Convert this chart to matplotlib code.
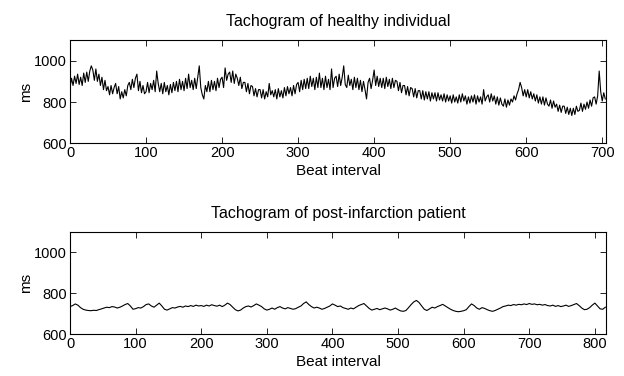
import numpy as np
import matplotlib
matplotlib.use("Agg")
import matplotlib.pyplot as plt

# RR intervals (ms), healthy subject, read every 2 beats
healthy_ms = [
    870, 915, 880, 925, 890, 935, 885, 920, 880, 940,
    895, 945, 900, 950, 975, 955, 905, 960, 900, 935,
    880, 920, 860, 905, 855, 875, 835, 880, 840, 870,
    890, 840, 875, 815, 850, 820, 860, 830, 880, 895,
    860, 910, 870, 915, 935, 855, 900, 845, 880, 840,
    850, 895, 845, 890, 860, 905, 850, 950, 890, 850,
    890, 840, 895, 850, 880, 835, 885, 845, 895, 855,
    900, 850, 910, 860, 900, 855, 915, 865, 935, 870,
    905, 860, 915, 865, 920, 975, 870, 835, 815, 880,
    850, 900, 850, 905, 860, 900, 855, 915, 870, 910,
    920, 870, 965, 905, 935, 945, 895, 950, 890, 935,
    915, 880, 920, 865, 895, 895, 850, 890, 840, 880,
    875, 830, 865, 825, 860, 860, 820, 860, 815, 850,
    825, 890, 835, 855, 825, 860, 815, 865, 825, 855,
    820, 870, 830, 875, 840, 870, 830, 880, 840, 885,
    895, 850, 905, 860, 910, 865, 915, 865, 925, 875,
    915, 860, 920, 870, 940, 870, 915, 860, 925, 870,
    910, 860, 960, 870, 915, 925, 875, 935, 880, 920,
    975, 885, 870, 930, 880, 910, 860, 920, 870, 915,
    860, 905, 850, 900, 860, 815, 895, 915, 865, 905,
    955, 880, 925, 875, 915, 870, 915, 865, 920, 875,
    910, 865, 915, 870, 905, 900, 855, 895, 845, 880,
    880, 835, 875, 830, 870, 865, 825, 865, 820, 855,
    855, 815, 855, 810, 850, 815, 850, 805, 845, 815,
    845, 805, 845, 810, 835, 805, 840, 800, 835, 805,
    830, 795, 835, 800, 825, 795, 835, 800, 840, 805,
    830, 790, 825, 795, 830, 800, 835, 790, 830, 800,
    825, 790, 860, 805, 825, 835, 800, 840, 805, 830,
    790, 825, 785, 820, 790, 780, 815, 775, 810, 785,
    815, 800, 830, 810, 840, 860, 895, 870, 830, 860,
    825, 860, 820, 850, 815, 840, 805, 835, 795, 825,
    790, 825, 785, 820, 790, 780, 810, 770, 805, 775,
    790, 755, 785, 750, 780, 780, 745, 775, 740, 770,
    735, 770, 740, 780, 755, 760, 795, 755, 790, 765,
    800, 770, 810, 780, 820, 825, 790, 830, 950, 850,
    805, 845, 815,
]

# RR intervals (ms), post-infarction patient, read every 4 beats
patient_ms = [
    735, 740, 748, 742, 730, 722, 718, 716, 715, 717,
    716, 720, 724, 728, 732, 730, 735, 733, 728, 732,
    738, 745, 750, 738, 722, 725, 730, 728, 735, 745,
    748, 738, 732, 742, 752, 738, 722, 718, 724, 730,
    728, 733, 736, 732, 738, 735, 740, 736, 742, 738,
    740, 736, 742, 738, 744, 740, 737, 742, 735, 742,
    752, 745, 732, 720, 714, 718, 728, 735, 738, 733,
    740, 748, 742, 735, 724, 718, 722, 728, 722, 730,
    735, 728, 724, 730, 726, 722, 725, 732, 738, 750,
    758, 745, 735, 728, 732, 728, 722, 726, 732, 738,
    748, 742, 735, 738, 730, 726, 722, 728, 724, 732,
    740, 745, 750, 738, 726, 718, 722, 726, 720, 724,
    728, 724, 718, 722, 728, 720, 714, 712, 716, 730,
    745, 758, 765, 755, 738, 722, 716, 724, 732, 728,
    735, 740, 746, 738, 730, 722, 716, 712, 710, 712,
    715, 720, 735, 748, 740, 728, 722, 730, 726, 720,
    715, 712, 716, 722, 728, 735, 738, 742, 740, 745,
    742, 746, 744, 748, 745, 750, 746, 748, 744, 746,
    742, 745, 740, 738, 742, 736, 740, 735, 738, 742,
    736, 740, 745, 750, 740, 728, 720, 722, 730, 742,
    752, 738, 724, 722, 732,
]

healthy_beats = np.arange(len(healthy_ms)) * 2
patient_beats = np.arange(len(patient_ms)) * 4

plt.rcParams['font.family'] = ['Liberation Sans', 'DejaVu Sans']
plt.rcParams['font.size'] = 10.5

fig = plt.figure(figsize=(6.24, 3.76), dpi=100)
ax1 = fig.add_axes([0.1122, 0.6186, 0.859, 0.275])
ax2 = fig.add_axes([0.1122, 0.1109, 0.859, 0.2729])

panels = [
    (ax1, healthy_beats, healthy_ms, 'Tachogram of healthy individual', 705, range(0, 701, 100)),
    (ax2, patient_beats, patient_ms, 'Tachogram of post-infarction patient', 817, range(0, 801, 100)),
]

for ax, x, y, title, xmax, xt in panels:
    ax.plot(x, y, color='black', linewidth=0.8)
    ax.set_xlim(0, xmax)
    ax.set_ylim(600, 1100)
    ax.set_xticks(list(xt))
    ax.set_yticks([600, 800, 1000])
    ax.tick_params(direction='in', top=True, right=True, length=4, width=0.6, pad=2,
                   labelsize=10.5)
    for s in ax.spines.values():
        s.set_linewidth(0.8)
    ax.set_title(title, fontsize=11.5, pad=10)
    ax.set_xlabel('Beat interval', fontsize=11, labelpad=3)
    ax.set_ylabel('ms', fontsize=11, labelpad=1)

fig.savefig('out.png', dpi=100)
